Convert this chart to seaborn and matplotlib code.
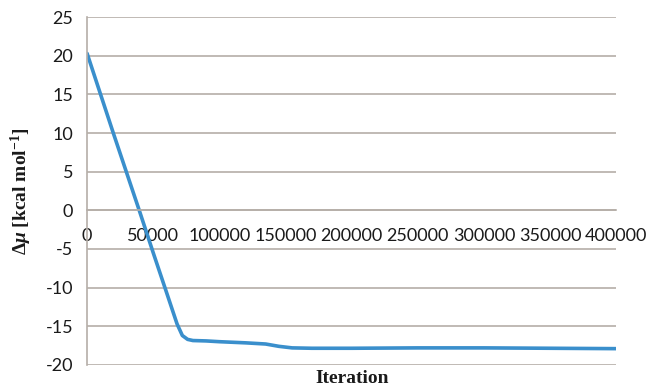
import numpy as np
import pandas as pd
import seaborn as sns
from matplotlib import pyplot as plt

# values
iterations = [0, 10000, 20000, 30000, 40000, 50000, 60000, 68000, 72000, 76000,
              80000, 90000, 100000, 120000, 135000, 145000, 155000, 170000,
              200000, 250000, 300000, 350000, 400000]
delta_mu = [20.3, 15.1, 9.9, 4.8, -0.3, -5.5, -10.6, -14.7, -16.2, -16.7,
            -16.85, -16.9, -17.0, -17.15, -17.3, -17.6, -17.8, -17.85,
            -17.85, -17.8, -17.8, -17.85, -17.9]
x_ticks = [0, 50000, 100000, 150000, 200000, 250000, 300000, 350000, 400000]
y_ticks = [-20, -15, -10, -5, 0, 5, 10, 15, 20, 25]

df = pd.DataFrame({'Iteration': iterations, 'dmu': delta_mu})

sns.set_style('white')
plt.rcParams['font.family'] = ['Lato', 'DejaVu Sans']
plt.rcParams['mathtext.fontset'] = 'custom'
plt.rcParams['mathtext.rm'] = 'Liberation Serif:bold'
plt.rcParams['mathtext.it'] = 'Liberation Serif:italic:bold'
plt.rcParams['mathtext.bf'] = 'Liberation Serif:bold'

grid_col = '#b5aea8'

fig, ax = plt.subplots(figsize=(6.5, 3.89), dpi=100)
fig.subplots_adjust(left=0.134, right=0.948, top=0.956, bottom=0.062)

sns.lineplot(data=df, x='Iteration', y='dmu', ax=ax, color='#3a8fcc', linewidth=2.6)

ax.set_xlim(0, 400000)
ax.set_ylim(-20, 25)
ax.set_xticks(x_ticks)
ax.set_yticks(y_ticks)
ax.set_xticklabels([str(t) for t in x_ticks])
ax.set_yticklabels([str(t) for t in y_ticks])

ax.yaxis.grid(True, color=grid_col, linewidth=1.2)
ax.xaxis.grid(False)
ax.set_axisbelow(True)

for s in ['top', 'right']:
    ax.spines[s].set_visible(False)
ax.spines['left'].set_color(grid_col)
ax.spines['left'].set_linewidth(1.2)
ax.spines['bottom'].set_position(('data', 0))
ax.spines['bottom'].set_color(grid_col)
ax.spines['bottom'].set_linewidth(1.2)

ax.tick_params(axis='x', direction='out', length=4, width=1, color=grid_col,
               pad=9, labelsize=13, labelcolor='#1a1a1a')
ax.tick_params(axis='y', direction='out', length=4, width=1, color=grid_col,
               pad=6, labelsize=13, labelcolor='#1a1a1a')

ax.set_xlabel('Iteration', fontsize=14, fontweight='bold',
              family='Liberation Serif', color='#1a1a1a')
ax.set_ylabel(r'$\Delta\mathit{\mu}$ [kcal mol$^{\mathbf{-1}}$]', fontsize=14,
              fontweight='bold', family='Liberation Serif', color='#1a1a1a')
ax.xaxis.set_label_coords(0.5, -0.015)
ax.yaxis.set_label_coords(-0.1, 0.5)

plt.savefig('out.png', dpi=100)
